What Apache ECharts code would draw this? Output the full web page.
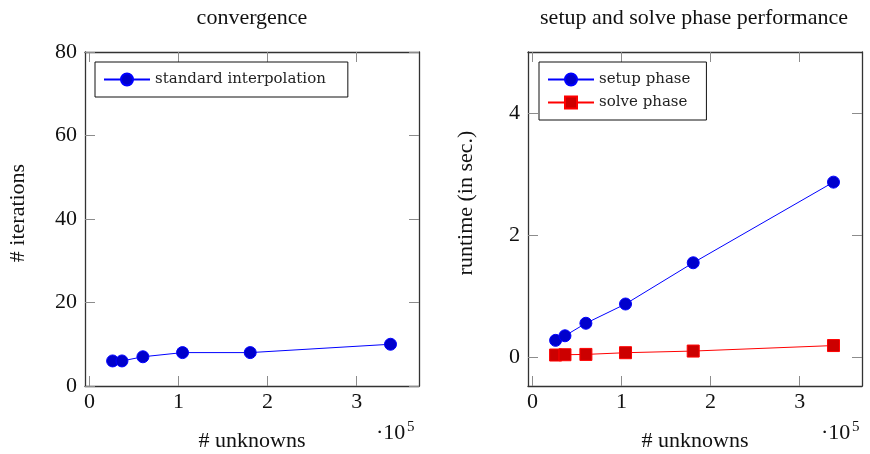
<!DOCTYPE html>
<html>
<head>
<meta charset="utf-8">
<script src="https://cdn.jsdelivr.net/npm/echarts@6.0.0/dist/echarts.min.js"></script>
<style>
  html, body { margin: 0; padding: 0; background: #fff; }
  #chart { width: 870px; height: 454px; }
</style>
</head>
<body>
<div id="chart"></div>
<script>
// Problem sizes (number of unknowns) shared by both panels
const unknowns = [26000, 36500, 60000, 104500, 180500, 338000];
// Solver iterations with standard interpolation
const iterations = [6, 6, 7, 8, 8, 10];
// Runtimes in seconds
const setupTime = [0.28, 0.355, 0.56, 0.875, 1.55, 2.87];
const solveTime = [0.04, 0.045, 0.05, 0.078, 0.105, 0.195];
// Tick positions
const xTicks = [0, 100000, 200000, 300000];
const iterTicks = [0, 20, 40, 60, 80];
const timeTicks = [0, 2, 4];

const SERIF = 'Liberation Serif';
const LEGEND_FONT = 'DejaVu Serif';
const FS = 22;
const FRAME = { color: '#333', width: 1.3 };
const TICK = { color: '#8c8c8c', width: 1 };

function pairs(xs, ys) { return xs.map((x, i) => [x, ys[i]]); }

function xAxisDef(gridIndex, pos) {
  const bottom = pos === 'bottom';
  return {
    type: 'value', gridIndex: gridIndex, position: pos,
    min: -5000, max: 370000,
    splitLine: { show: false },
    axisLine: { show: true, onZero: false, lineStyle: FRAME },
    axisTick: { show: true, inside: true, length: 10, lineStyle: TICK, customValues: xTicks },
    axisLabel: {
      show: bottom, customValues: xTicks, margin: 5,
      fontFamily: SERIF, fontSize: FS, color: '#111',
      formatter: v => String(Math.round(v / 1e5))
    }
  };
}

function yAxisDef(gridIndex, pos, min, max, ticks) {
  const left = pos === 'left';
  return {
    type: 'value', gridIndex: gridIndex, position: pos,
    min: min, max: max,
    splitLine: { show: false },
    axisLine: { show: true, onZero: false, lineStyle: FRAME },
    axisTick: { show: true, inside: true, length: 10, lineStyle: TICK, customValues: ticks },
    axisLabel: {
      show: left, customValues: ticks, margin: 8,
      fontFamily: SERIF, fontSize: FS, color: '#111'
    }
  };
}

function lineSeries(name, xi, yi, data, lineColor, fillColor, symbol) {
  return {
    type: 'line', name: name, xAxisIndex: xi, yAxisIndex: yi,
    data: data, symbol: symbol, symbolSize: 12,
    lineStyle: { color: lineColor, width: 1 },
    itemStyle: { color: fillColor, borderColor: lineColor, borderWidth: 1 },
    emphasis: { disabled: true }
  };
}

function label(text, x, y, size, rot) {
  return {
    type: 'text', x: x, y: y, rotation: rot || 0,
    style: {
      text: text, font: size + 'px "' + SERIF + '"', fill: '#111',
      textAlign: 'center', textVerticalAlign: 'middle',
      align: 'center', verticalAlign: 'middle'
    }
  };
}

function power(x, y) {
  return [
    { type: 'text', x: x, y: y,
      style: { text: '·10', font: FS + 'px "' + SERIF + '"', fill: '#111',
               textAlign: 'left', textVerticalAlign: 'middle', align: 'left', verticalAlign: 'middle' } },
    { type: 'text', x: x + 31, y: y - 6,
      style: { text: '5', font: '15px "' + SERIF + '"', fill: '#111',
               textAlign: 'left', textVerticalAlign: 'middle', align: 'left', verticalAlign: 'middle' } }
  ];
}

function legendDef(names, left, padRight) {
  return {
    data: names, left: left, top: 62, orient: 'vertical',
    borderColor: '#111', borderWidth: 1, backgroundColor: '#fff',
    itemWidth: 46, itemHeight: 15, itemGap: 8,
    padding: [10, padRight, 10, 8],
    textStyle: { fontFamily: LEGEND_FONT, fontSize: 15, color: '#222' },
    selectedMode: false
  };
}

const chart = echarts.init(document.getElementById('chart'), null, { renderer: 'canvas' });
chart.setOption({
  animation: false,
  grid: [
    { left: 85, right: 451, top: 52, bottom: 68 },
    { left: 528, right: 8, top: 52, bottom: 68 }
  ],
  xAxis: [
    xAxisDef(0, 'bottom'), xAxisDef(0, 'top'),
    xAxisDef(1, 'bottom'), xAxisDef(1, 'top')
  ],
  yAxis: [
    yAxisDef(0, 'left', 0, 80, iterTicks), yAxisDef(0, 'right', 0, 80, iterTicks),
    yAxisDef(1, 'left', -0.467, 5, timeTicks), yAxisDef(1, 'right', -0.467, 5, timeTicks)
  ],
  legend: [
    legendDef(['standard interpolation'], 95, 22),
    legendDef(['setup phase', 'solve phase'], 539, 16)
  ],
  series: [
    lineSeries('standard interpolation', 0, 0, pairs(unknowns, iterations), '#0000ff', '#0000cc', 'circle'),
    lineSeries('setup phase', 2, 2, pairs(unknowns, setupTime), '#0000ff', '#0000cc', 'circle'),
    lineSeries('solve phase', 2, 2, pairs(unknowns, solveTime), '#ff0000', '#cc0000', 'rect')
  ],
  graphic: [
    label('convergence', 252, 18, FS),
    label('setup and solve phase performance', 694, 18, FS),
    label('# unknowns', 252, 441, FS),
    label('# unknowns', 695, 441, FS),
    label('# iterations', 18, 213, FS, Math.PI / 2),
    label('runtime (in sec.)', 466, 203, FS, Math.PI / 2)
  ].concat(power(376, 433), power(821, 433))
});
</script>
</body>
</html>
